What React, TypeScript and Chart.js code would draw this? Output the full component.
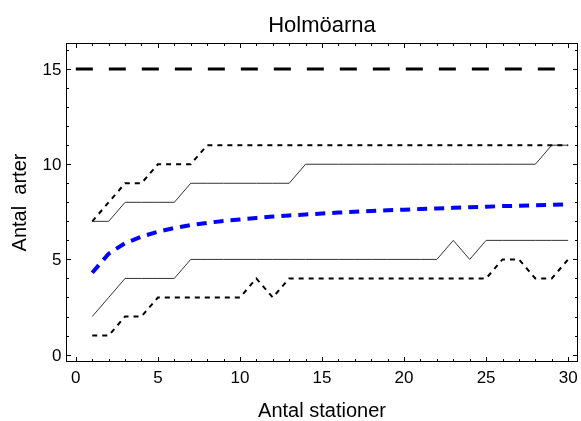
import React, { useEffect, useRef } from "react";
import { Chart, registerables } from "chart.js";

Chart.register(...registerables);

const chartTitle = "Holmöarna";
const xAxisTitle = "Antal stationer";
const yAxisTitle = "Antal  arter";

const stations = [1, 2, 3, 4, 5, 6, 7, 8, 9, 10, 11, 12, 13, 14, 15, 16, 17, 18, 19, 20, 21, 22, 23, 24, 25, 26, 27, 28, 29, 30];

const totalX = [0, 30];
const totalSpecies = [15, 15];

const meanSpecies = [4.3, 5.3, 5.85, 6.2, 6.45, 6.65, 6.8, 6.92, 7.02, 7.1, 7.18, 7.25, 7.31, 7.36, 7.41, 7.46, 7.5, 7.54, 7.58, 7.61, 7.65, 7.68, 7.71, 7.74, 7.77, 7.8, 7.82, 7.85, 7.87, 7.9];

const maxSpecies = [7, 8, 9, 9, 10, 10, 10, 11, 11, 11, 11, 11, 11, 11, 11, 11, 11, 11, 11, 11, 11, 11, 11, 11, 11, 11, 11, 11, 11, 11];
const upperSpecies = [7, 7, 8, 8, 8, 8, 9, 9, 9, 9, 9, 9, 9, 10, 10, 10, 10, 10, 10, 10, 10, 10, 10, 10, 10, 10, 10, 10, 11, 11];
const lowerSpecies = [2, 3, 4, 4, 4, 4, 5, 5, 5, 5, 5, 5, 5, 5, 5, 5, 5, 5, 5, 5, 5, 5, 6, 5, 6, 6, 6, 6, 6, 6];
const minSpecies = [1, 1, 2, 2, 3, 3, 3, 3, 3, 3, 4, 3, 4, 4, 4, 4, 4, 4, 4, 4, 4, 4, 4, 4, 4, 5, 5, 4, 4, 5];

const xTickLabels = [0, 5, 10, 15, 20, 25, 30];
const yTickLabels = [0, 5, 10, 15];

const X_MIN = -0.6;
const X_MAX = 30.6;
const Y_MIN = -0.39;
const Y_MAX = 16.37;

const FONT = '"Liberation Sans", Arial, Helvetica, sans-serif';

const toPoints = (xs: number[], ys: number[]) => xs.map((x, i) => ({ x, y: ys[i] }));

const framePlugin = {
  id: "frame",
  afterDraw(chart: any) {
    const { ctx, chartArea: a, scales } = chart;
    const xs = scales.x;
    const ys = scales.y;
    ctx.save();
    ctx.strokeStyle = "#000";
    ctx.lineWidth = 1;
    ctx.strokeRect(a.left + 0.5, a.top + 0.5, a.right - a.left - 1, a.bottom - a.top - 1);

    ctx.beginPath();
    for (let v = Math.ceil(X_MIN); v <= Math.floor(X_MAX); v++) {
      const p = Math.round(xs.getPixelForValue(v)) + 0.5;
      const len = v % 5 === 0 ? 5 : 3;
      ctx.moveTo(p, a.bottom);
      ctx.lineTo(p, a.bottom - len);
      ctx.moveTo(p, a.top);
      ctx.lineTo(p, a.top + len);
    }
    for (let v = Math.ceil(Y_MIN); v <= Math.floor(Y_MAX); v++) {
      const p = Math.round(ys.getPixelForValue(v)) + 0.5;
      const len = v % 5 === 0 ? 5 : 3;
      ctx.moveTo(a.left, p);
      ctx.lineTo(a.left + len, p);
      ctx.moveTo(a.right, p);
      ctx.lineTo(a.right - len, p);
    }
    ctx.stroke();

    ctx.fillStyle = "#000";
    ctx.font = `17px ${FONT}`;
    ctx.textAlign = "center";
    ctx.textBaseline = "alphabetic";
    for (const v of xTickLabels) {
      ctx.fillText(String(v), xs.getPixelForValue(v), a.bottom + 21);
    }
    ctx.textAlign = "right";
    for (const v of yTickLabels) {
      ctx.fillText(String(v), a.left - 4.5, ys.getPixelForValue(v) + 6);
    }

    const cx = (a.left + a.right) / 2;
    ctx.textAlign = "center";
    ctx.font = `22px ${FONT}`;
    ctx.fillText(chartTitle, cx, 32);
    ctx.font = `20px ${FONT}`;
    ctx.fillText(xAxisTitle, cx, 417);
    ctx.translate(26, (a.top + a.bottom) / 2);
    ctx.rotate(-Math.PI / 2);
    ctx.fillText(yAxisTitle, 0, 0);
    ctx.restore();
  },
};

export default function App() {
  const ref = useRef<HTMLCanvasElement | null>(null);

  useEffect(() => {
    if (!ref.current) return;
    const chart = new Chart(ref.current, {
      type: "line",
      data: {
        datasets: [
          {
            label: "Totalt",
            data: toPoints(totalX, totalSpecies),
            borderColor: "#000",
            borderWidth: 3,
            borderDash: [17, 16],
            pointRadius: 0,
          },
          {
            label: "Max",
            data: toPoints(stations, maxSpecies),
            borderColor: "#000",
            borderWidth: 2,
            borderDash: [5, 5],
            pointRadius: 0,
          },
          {
            label: "Övre",
            data: toPoints(stations, upperSpecies),
            borderColor: "#333",
            borderWidth: 1,
            pointRadius: 0,
          },
          {
            label: "Medel",
            data: toPoints(stations, meanSpecies),
            borderColor: "#0000ff",
            borderWidth: 4,
            borderDash: [10, 7],
            pointRadius: 0,
          },
          {
            label: "Undre",
            data: toPoints(stations, lowerSpecies),
            borderColor: "#333",
            borderWidth: 1,
            pointRadius: 0,
          },
          {
            label: "Min",
            data: toPoints(stations, minSpecies),
            borderColor: "#000",
            borderWidth: 2,
            borderDash: [5, 5],
            pointRadius: 0,
          },
        ],
      },
      options: {
        responsive: false,
        animation: false,
        events: [],
        layout: { padding: { top: 43, right: 3, left: 0, bottom: 0 } },
        elements: { line: { tension: 0, fill: false } },
        plugins: {
          legend: { display: false },
          title: { display: false },
          tooltip: { enabled: false },
        },
        scales: {
          x: {
            type: "linear",
            min: X_MIN,
            max: X_MAX,
            grid: { display: false },
            border: { display: false },
            ticks: { display: false },
            afterFit: (s: any) => {
              s.height = 59;
            },
          },
          y: {
            type: "linear",
            min: Y_MIN,
            max: Y_MAX,
            grid: { display: false },
            border: { display: false },
            ticks: { display: false },
            afterFit: (s: any) => {
              s.width = 66;
            },
          },
        },
      },
      plugins: [framePlugin],
    });
    return () => chart.destroy();
  }, []);

  return (
    <div style={{ position: "fixed", left: 0, top: 0, width: 581, height: 421, background: "#fff" }}>
      <canvas ref={ref} width={581} height={421} style={{ display: "block" }} />
    </div>
  );
}
